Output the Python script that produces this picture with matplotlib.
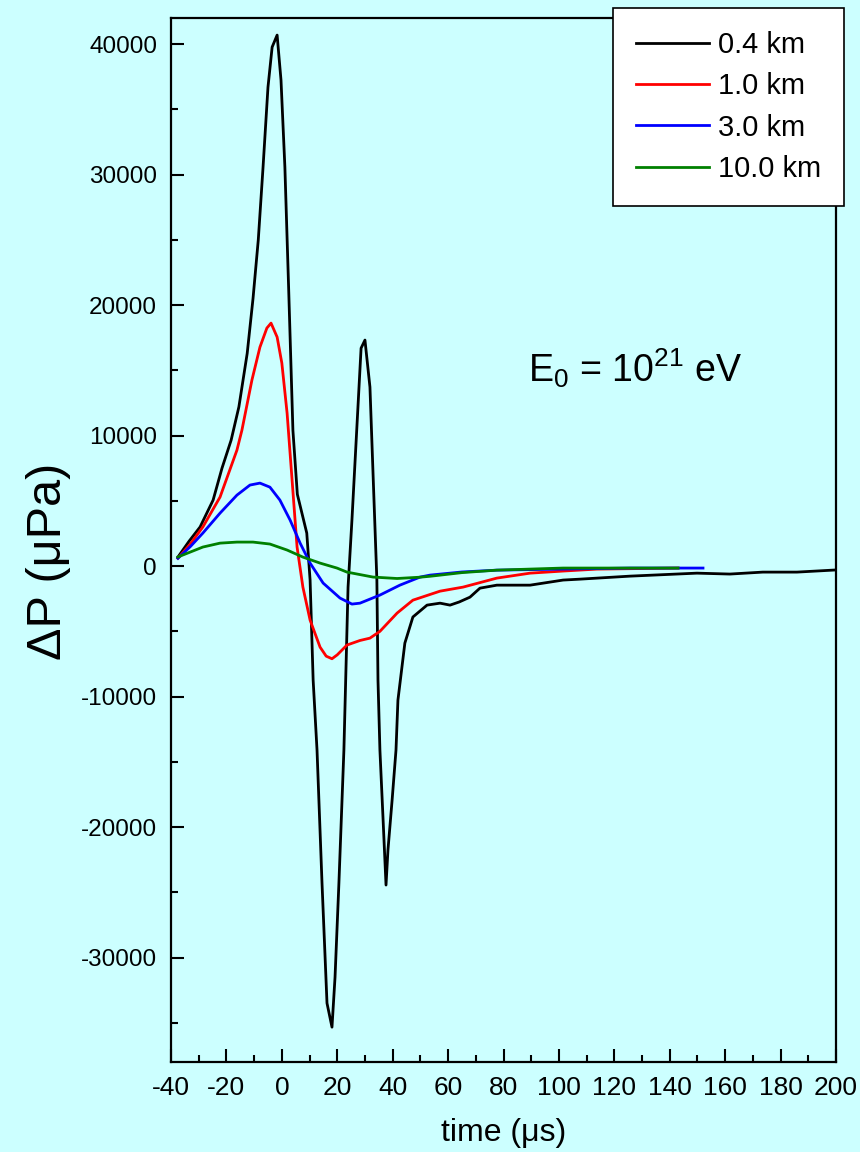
import matplotlib
matplotlib.use("Agg")
import matplotlib.pyplot as plt
from matplotlib.ticker import MultipleLocator

plt.rcParams["font.family"] = ["Liberation Sans", "DejaVu Sans"]
plt.rcParams["mathtext.default"] = "regular"
plt.rcParams["axes.unicode_minus"] = False

# time (us) and pressure (uPa)
t_04 = [-37.5, -33.5, -29.5, -24.8, -21.6, -18.3, -15.5, -12.5, -10.4, -8.5, -6.8,
        -5.0, -3.5, -1.7, -0.3, 1.1, 2.5, 4.0, 5.6, 9.0, 10.2, 11.3, 12.7, 14.5,
        16.3, 18.1, 19.2, 20.6, 22.4, 23.9, 25.3, 28.6, 30.0, 31.8, 33.0, 34.3,
        34.7, 35.4, 36.5, 37.6, 38.3, 39.8, 41.2, 41.9, 44.4, 47.3, 52.4, 57.1,
        60.7, 64.0, 67.9, 71.5, 77.6, 89.6, 101.5, 107.6, 125.6, 149.8, 161.7,
        173.6, 185.9, 199.6]
p_04 = [690, 1900, 3000, 5060, 7500, 9650, 12200, 16300, 20500, 25000, 30500,
        36700, 39770, 40690, 37240, 30580, 21000, 10400, 5500, 2530, -1070, -8740,
        -14100, -24290, -33490, -35330, -31500, -24290, -14100, -1610, 3520, 16700,
        17320, 13720, 6590, -1070, -8740, -14100, -19230, -24440, -21760, -17930,
        -14100, -10270, -5900, -3900, -2990, -2840, -2990, -2750, -2380, -1690,
        -1460, -1460, -1070, -1000, -770, -540, -610, -460, -460, -300]

t_10 = [-37.5, -33.0, -28.5, -22.3, -16.2, -14.4, -10.8, -7.9, -5.4, -3.9, -1.7,
        0.0, 1.9, 3.7, 5.5, 7.6, 10.2, 13.8, 16.0, 18.1, 20.0, 23.5, 28.2, 31.8,
        35.4, 41.6, 47.3, 57.1, 65.4, 77.6, 89.6, 101.5, 113.7, 125.0, 143.0]
p_10 = [600, 1700, 3000, 5290, 8890, 10420, 14250, 16780, 18240, 18620, 17550,
        15560, 11720, 6590, 1460, -1610, -4140, -6210, -6900, -7100, -6800, -6050,
        -5700, -5520, -5000, -3600, -2610, -1920, -1610, -920, -540, -380, -230,
        -200, -150]

t_30 = [-37.5, -33.0, -28.5, -22.3, -16.2, -11.5, -7.9, -4.3, -0.7, 3.0, 6.6, 10.2,
        14.9, 21.0, 25.3, 28.2, 35.4, 42.6, 49.9, 53.5, 65.0, 77.6, 101.5, 125.6,
        152.0]
p_30 = [600, 1500, 2530, 4060, 5440, 6210, 6360, 6050, 5060, 3520, 1760, 230,
        -1300, -2450, -2910, -2840, -2220, -1460, -840, -690, -450, -310, -230,
        -150, -150]

t_100 = [-37.5, -28.5, -22.3, -16.2, -10.4, -4.3, 1.9, 7.6, 13.8, 19.9, 23.5, 32.9,
         41.6, 49.9, 53.5, 65.0, 77.6, 101.5, 143.0]
p_100 = [700, 1460, 1760, 1840, 1840, 1690, 1230, 690, 230, -150, -460, -840,
         -950, -850, -780, -500, -310, -150, -150]

series = [
    (t_04, p_04, "0.4 km", "black"),
    (t_10, p_10, "1.0 km", "#ff0000"),
    (t_30, p_30, "3.0 km", "#0000ff"),
    (t_100, p_100, "10.0 km", "#008000"),
]

bg = "#ccffff"
fig = plt.figure(figsize=(8.6, 11.52), dpi=100, facecolor=bg)
ax = fig.add_axes([171 / 860, 90 / 1152, 665 / 860, 1044 / 1152], facecolor=bg)

for t, p, label, color in series:
    ax.plot(t, p, color=color, lw=2.0, label=label, solid_joinstyle="round")

ax.set_xlim(-40, 200)
ax.set_ylim(-38000, 42000)
ax.xaxis.set_major_locator(MultipleLocator(20))
ax.xaxis.set_minor_locator(MultipleLocator(10))
ax.yaxis.set_major_locator(MultipleLocator(10000))
ax.yaxis.set_minor_locator(MultipleLocator(5000))
ax.set_yticks(range(-30000, 40001, 10000))

for s in ax.spines.values():
    s.set_linewidth(1.6)

ax.tick_params(which="both", direction="in", width=1.5, top=False, right=False)
ax.tick_params(which="major", length=9.5)
ax.tick_params(which="minor", length=5)
ax.tick_params(axis="x", which="major", labelsize=19, pad=10)
ax.tick_params(axis="y", which="major", labelsize=17.5, pad=10)

ax.set_xlabel("time (\u03bcs)", fontsize=23)
ax.xaxis.set_label_coords(0.5, -0.054)
ax.set_ylabel("\u0394P (\u03bcPa)", fontsize=35)
ax.yaxis.set_label_coords(-0.15, 0.48)

ax.text(0.537, 0.665, r"E$_0$ = 10$^{21}$ eV", transform=ax.transAxes,
        fontsize=27, ha="left", va="center")

leg = ax.legend(loc="upper right", bbox_to_anchor=(844 / 860, 1 - 8 / 1152),
                bbox_transform=fig.transFigure, fontsize=21, frameon=True,
                fancybox=False, framealpha=1, edgecolor="black",
                handlelength=2.5, handletextpad=0.3, labelspacing=0.45,
                borderpad=0.8, borderaxespad=0)
leg.get_frame().set_linewidth(1.2)
for line in leg.get_lines():
    line.set_linewidth(2.0)

fig.savefig("out.png", dpi=100, facecolor=bg)
